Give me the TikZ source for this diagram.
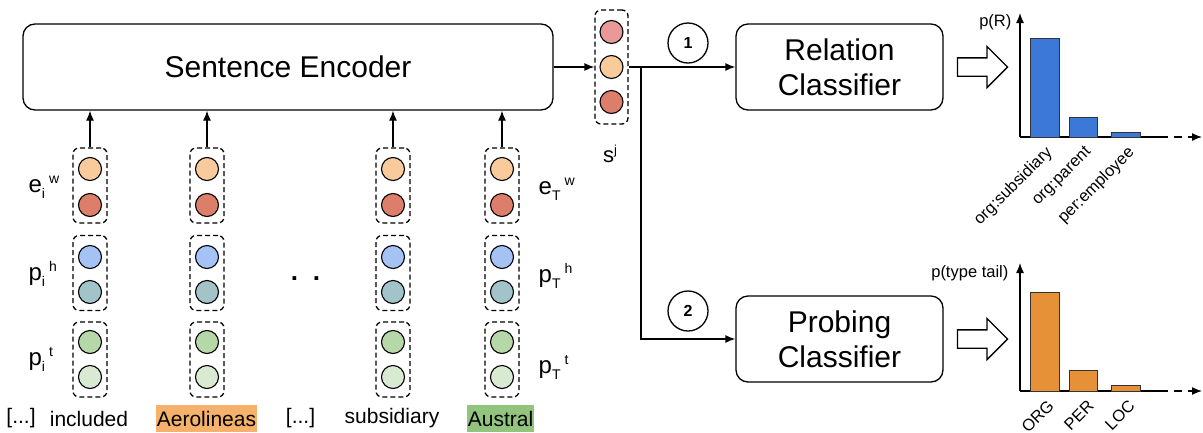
\documentclass[tikz,border=0pt]{standalone}
\usepackage{fontspec}
\setmainfont{Liberation Sans}
\usetikzlibrary{arrows.meta, positioning, shapes.arrows}

\definecolor{peach}{HTML}{F9CB9C}
\definecolor{brick}{HTML}{DD7E6B}
\definecolor{sky}{HTML}{A4C2F4}
\definecolor{slate}{HTML}{A2C4C9}
\definecolor{leaf}{HTML}{B6D7A8}
\definecolor{mint}{HTML}{D9EAD3}
\definecolor{rose}{HTML}{EA9999}
\definecolor{barblue}{HTML}{3C78D8}
\definecolor{barorange}{HTML}{E69138}
\definecolor{hlorange}{HTML}{F6B26B}
\definecolor{hlgreen}{HTML}{93C47D}

\newcommand{\subtag}[1]{\raisebox{-6pt}{\fontsize{14}{14}\selectfont #1}}
\newcommand{\suptag}[1]{\raisebox{9pt}{\fontsize{14}{14}\selectfont #1}}

\begin{document}
\begin{tikzpicture}[
    x=1pt, y=-1pt,
    line width=1.3pt,
    >={Latex[length=10pt, width=8pt]}, % arrow style
    block/.style={draw, rounded corners=12pt, minimum height=86pt, align=center,
        font=\fontsize{30}{35}\selectfont},
    pairbox/.style={draw, dash pattern=on 5pt off 3pt, rounded corners=6pt,
        minimum width=34pt, minimum height=75pt},
    unit/.style={circle, draw, line width=1.1pt, minimum size=23pt, inner sep=0pt},
    stepnum/.style={circle, draw, minimum size=40pt, inner sep=0pt,
        font=\fontsize{16}{16}\selectfont\bfseries},
    bigarrow/.style={single arrow, draw, minimum height=50pt, inner sep=8.5pt,
        single arrow head extend=11.5pt},
    symb/.style={font=\fontsize{24}{24}\selectfont, inner sep=0pt},
    word/.style={font=\fontsize{21}{24}\selectfont, inner xsep=1pt, inner ysep=0pt,
        minimum height=27pt},
    tick/.style={font=\fontsize{16.5}{16.5}\selectfont, inner sep=1pt},
    bar/.style={draw=black!80, line width=1pt}
]
    \useasboundingbox (0,0) rectangle (1203,432);

    % === Encoder and sentence vector ===
    \node[block, minimum width=530pt] (enc) at (288,67) {Sentence Encoder};

    \node[pairbox, minimum width=33pt, minimum height=114pt] (svec) at (611.5,67) {};
    \node[unit, fill=rose] (s1) at (611.5,32) {};
    \node[unit, fill=peach] (s2) at (611.5,67) {};
    \node[unit, fill=brick] (s3) at (611.5,102) {};
    \node[font=\fontsize{22}{22}\selectfont, inner sep=0pt] (slab) at (610,154)
        {s\raisebox{8pt}{\fontsize{13}{13}\selectfont j}};

    \draw[->] (enc.east) -- (svec.west);

    % === Token columns ===
    \foreach \cx/\cn in {90/a, 207/b, 393/c, 502/d} {
        \node[pairbox] (w\cn) at (\cx,185.5) {};
        \node[unit, fill=peach] (w\cn-1) at (\cx,169) {};
        \node[unit, fill=brick] (w\cn-2) at (\cx,205) {};
        \node[pairbox] (h\cn) at (\cx,273) {};
        \node[unit, fill=sky] (h\cn-1) at (\cx,257) {};
        \node[unit, fill=slate] (h\cn-2) at (\cx,292) {};
        \node[pairbox] (t\cn) at (\cx,359.5) {};
        \node[unit, fill=leaf] (t\cn-1) at (\cx,342) {};
        \node[unit, fill=mint] (t\cn-2) at (\cx,377) {};
        \draw[->] (w\cn.north) -- (w\cn.north |- enc.south);
    }

    % labels of the first and last column
    \node[symb, anchor=west] (lew) at (28,187) {e\subtag{i}\,\suptag{w}};
    \node[symb, anchor=west] (leh) at (28,274) {p\subtag{i}\,\suptag{h}};
    \node[symb, anchor=west] (let) at (28,359) {p\subtag{i}\,\suptag{t}};
    \node[symb, anchor=west] (rew) at (538,189) {e\subtag{T}\,\suptag{w}};
    \node[symb, anchor=west] (reh) at (538,276) {p\subtag{T}\,\suptag{h}};
    \node[symb, anchor=west] (ret) at (538,367) {p\subtag{T}\,\suptag{t}};

    \node[font=\fontsize{26}{26}\selectfont\bfseries, inner sep=0pt] (gap) at (305.5,279)
        {.\hspace{15pt}.};

    % === Sentence words ===
    \node[word] (wa0) at (21,418.5) {[...]};
    \node[word] (wa) at (89,418.5) {included};
    \node[word, fill=hlorange] (wb) at (206.5,418.5) {Aerolineas};
    \node[word] (wc0) at (300.5,418.5) {[...]};
    \node[word] (wc) at (392,418.5) {subsidiary};
    \node[word, fill=hlgreen] (wd) at (500.5,418.5) {Austral};

    % === Classifiers ===
    \node[block, minimum width=207pt] (rel) at (839.5,67) {Relation\\Classifier};
    \node[block, minimum width=207pt] (prob) at (839.5,339) {Probing\\Classifier};

    \coordinate (br) at (641,67);
    \draw[->] (svec.east) -- (rel.west);
    \draw[->] (br) |- (prob.west);

    \node[stepnum] (n1) at (688,43) {1};
    \node[stepnum] (n2) at (688,311) {2};

    \node[bigarrow] (ra) at (978,67) {};
    \node[bigarrow] (pa) at (978,339) {};

    % === Relation distribution ===
    \coordinate (o1) at (1020,137);
    \coordinate (y1) at (1020,13);
    \coordinate (x1) at (1160,137);
    \coordinate (e1) at (1202,137);
    \draw[->] (o1) -- (y1);
    \draw (o1) -- (x1);
    \draw[->, dash pattern=on 8pt off 6pt] (x1) -- (e1);
    \foreach \l/\r/\t in {1030/1059/38, 1069/1097/117, 1111/1140/132}
        \draw[bar, fill=barblue] (\l,137) rectangle (\r,\t);
    \node[tick, anchor=east] (pr) at (1013,22) {p(R)};
    \node[tick, rotate=45, anchor=east] (ls) at (1051,149) {org:subsidiary};
    \node[tick, rotate=45, anchor=east] (lp) at (1090,149) {org:parent};
    \node[tick, rotate=45, anchor=east] (le) at (1133,149) {per:employee};

    % === Type distribution ===
    \coordinate (o2) at (1020,391);
    \coordinate (y2) at (1020,263);
    \coordinate (x2) at (1160,391);
    \coordinate (e2) at (1202,391);
    \draw[->] (o2) -- (y2);
    \draw (o2) -- (x2);
    \draw[->, dash pattern=on 8pt off 6pt] (x2) -- (e2);
    \foreach \l/\r/\t in {1030/1059/292, 1069/1097/370, 1111/1140/385}
        \draw[bar, fill=barorange] (\l,391) rectangle (\r,\t);
    \node[tick, anchor=east] (pt) at (1010,273) {p(type tail)};
    \node[tick, rotate=45, anchor=east] (lo) at (1052,402) {ORG};
    \node[tick, rotate=45, anchor=east] (lpe) at (1092,402) {PER};
    \node[tick, rotate=45, anchor=east] (ll) at (1133,402) {LOC};

\end{tikzpicture}
\end{document}
